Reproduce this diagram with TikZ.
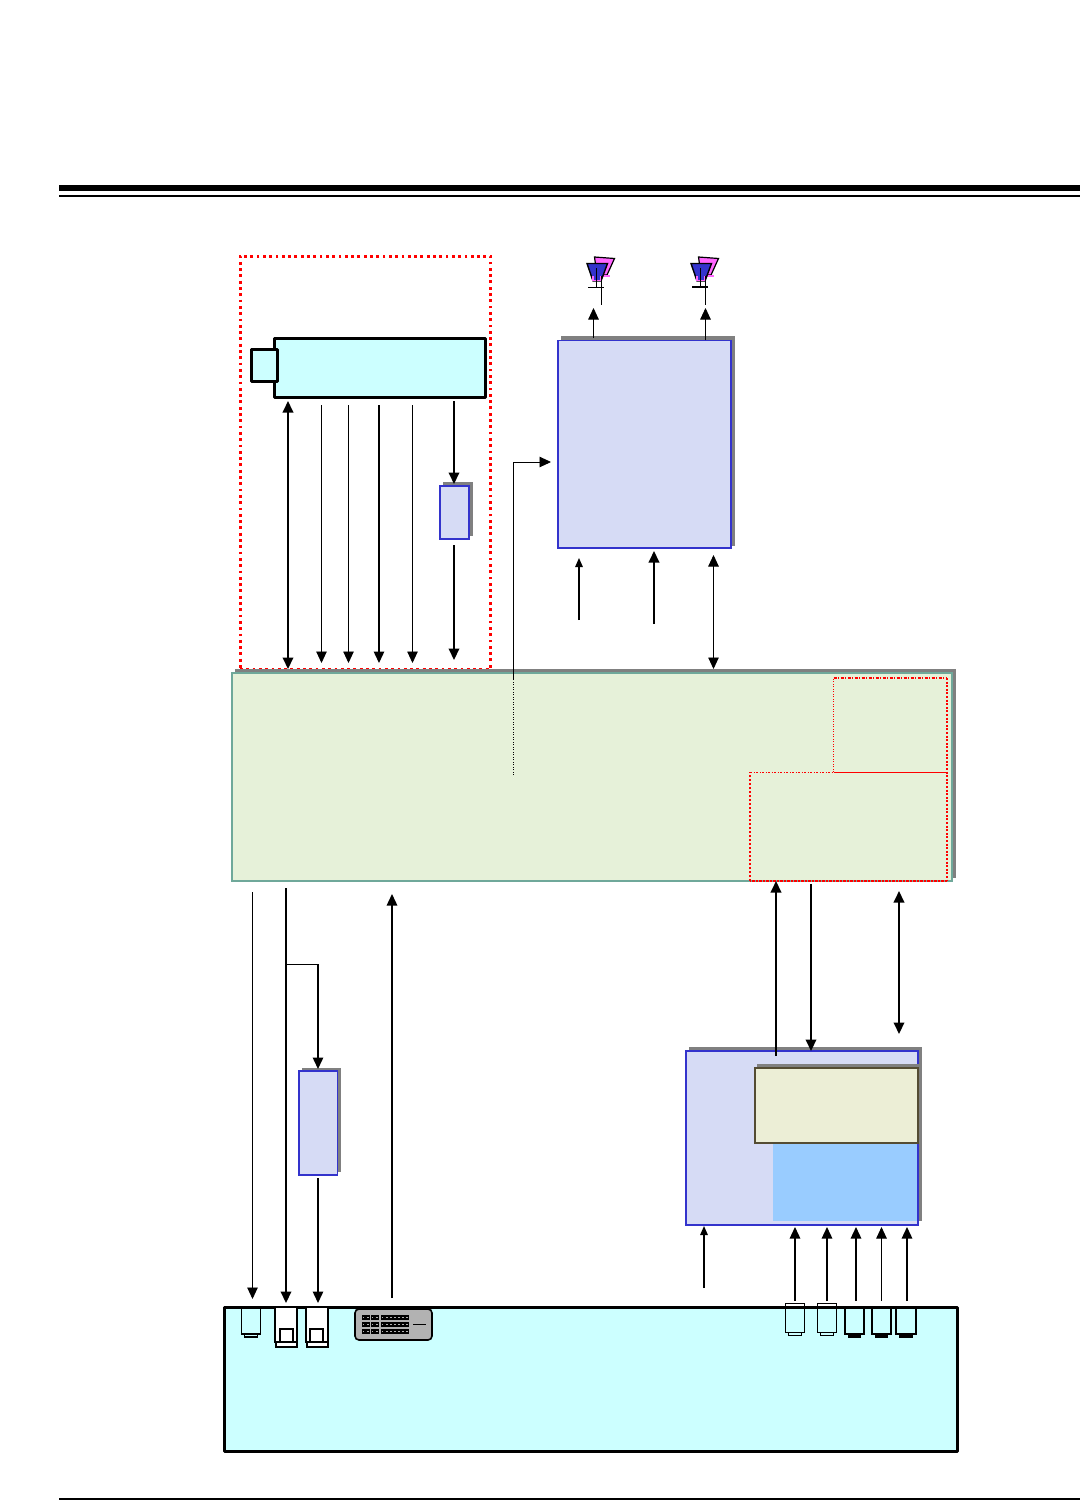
\documentclass[tikz,border=0pt]{standalone}
\usetikzlibrary{arrows.meta,fit}
\definecolor{lav}{HTML}{D6DBF5}
\definecolor{bord}{HTML}{3333CC}
\definecolor{shad}{HTML}{808080}
\definecolor{mint}{HTML}{E6F1D9}
\definecolor{teal2}{HTML}{6FA89A}
\definecolor{cyanp}{HTML}{CCFFFF}
\definecolor{creamp}{HTML}{ECEED6}
\definecolor{creamb}{HTML}{544C33}
\definecolor{skyb}{HTML}{99CCFF}
\definecolor{pinkp}{HTML}{FF66FF}
\definecolor{dvig}{HTML}{B2B2B2}
\tikzset{
  rbox/.style={inner sep=0pt,outer sep=0pt},
  shadowbox/.style={rbox,fill=shad},
  lavbox/.style={rbox,draw=bord,fill=lav,line width=1.6pt},
  panelbox/.style={rbox,draw=black,fill=cyanp,line width=3pt,line join=round},
  mainbox/.style={rbox,draw=teal2,fill=mint,line width=2pt},
  reddots/.style={draw=red,line width=3pt,dash pattern=on 2.8pt off 3.5pt},
  lnA/.style={line width=.9pt},
  lnB/.style={line width=1.4pt},
  lnC/.style={line width=2pt},
  tipS/.style={-{Triangle[length=9pt,width=7.5pt]}},
  tipM/.style={-{Triangle[length=11.5pt,width=10.5pt]}},
  tipD/.style={{Triangle[length=11.5pt,width=10.5pt]}-{Triangle[length=11.5pt,width=10.5pt]}},
  jackW/.style={rbox,draw=black,fill=white,line width=2pt},
}
% name, style, x1,y1,x2,y2
\newcommand{\rectnode}[6]{\node[#2,fit={(#3,#4)(#5,#6)}] (#1) {};}
% name, style, x, y1, y2
\newcommand{\vconn}[5]{\coordinate (#1-a) at (#3,#4); \coordinate (#1-b) at (#3,#5); \draw[#2] (#1-a) -- (#1-b);}
% antenna at x-offset
\newcommand{\antenna}[3]{%
  \begin{scope}[xshift=#1pt]
    \draw[fill=pinkp,line width=1.2pt] (594.5,257) -- (614.5,258.5) -- (607,275) -- (597,275) -- cycle;
    \fill[pinkp] (603,275) rectangle (610,277);
    \draw[fill=bord,line width=1.4pt] (587,263.5) -- (607.5,263.5) -- (601,281) -- (593,281) -- cycle;
    \fill[pinkp] (591.5,275.5) rectangle (601,281);
    \fill[bord] (593.5,276) rectangle (599.5,280);
    \draw[line width=1pt] (596.5,268) -- (596.5,287);
    \draw[line width=#3pt] (588,287) -- (604,287);
    \draw[line width=1pt] (#2,276) -- (#2,285);
  \end{scope}}
\begin{document}
\begin{tikzpicture}[x=1pt,y=-1pt]
\useasboundingbox (0,0) rectangle (1080,1501);
\fill[white] (0,0) rectangle (1080,1501);

% header / footer rules
\coordinate (hl) at (59,188); \coordinate (hr) at (1080,188);
\draw[line width=6pt] (hl) -- (hr);
\coordinate (hl2) at (59,196); \coordinate (hr2) at (1080,196);
\draw[line width=2pt] (hl2) -- (hr2);
\coordinate (fl) at (59,1499); \coordinate (fr) at (1080,1499);
\draw[line width=2.5pt] (fl) -- (fr);

% display module group
\rectnode{dispgroup}{rbox,reddots}{240}{256}{490.5}{669}
\rectnode{panel}{panelbox}{274.5}{338}{485.5}{397.5}
\rectnode{paneltab}{panelbox}{251}{349}{277.5}{381}

% small inverter block
\rectnode{invshadow}{shadowbox}{443}{482}{473}{536}
\rectnode{inv}{lavbox}{440}{486}{469}{539}

% big upper block
\rectnode{ampshadow}{shadowbox}{561}{336}{735}{546}
\rectnode{amp}{lavbox}{558}{340.5}{731}{548}

% main board
\rectnode{mainshadow}{shadowbox}{235}{669}{956}{878}
\rectnode{mainb}{mainbox}{232}{673}{951.5}{881}

% red sub-area
\coordinate (r1) at (833.5,772); \coordinate (r2) at (833.5,678);
\coordinate (r3) at (947,678); \coordinate (r4) at (947,881);
\coordinate (r5) at (750,881); \coordinate (r6) at (750,772); \coordinate (r7) at (947,772);
\draw[red,line width=.8pt,dash pattern=on 1pt off 1.5pt] (r1) -- (r2);
\draw[red,line width=1.6pt,dash pattern=on 3pt off 1.5pt on 1pt off 1.5pt] (r2) -- (r3);
\draw[red,line width=2pt,dash pattern=on 2pt off 1.6pt] (r3) -- (r4);
\draw[red,line width=2pt,dash pattern=on 2.5pt off 1pt] (r4) -- (r5);
\draw[red,line width=2pt,dash pattern=on 2pt off 2pt] (r5) -- (r6);
\draw[red,line width=1pt,dash pattern=on 2pt off 1.5pt on 1pt off 1.5pt] (r6) -- (r1);
\draw[red,line width=1pt] (r1) -- (r7);

% upper connectors
\vconn{u1}{lnC,tipD}{288}{401}{669}
\vconn{u2}{lnA,tipM}{321.5}{405}{663}
\vconn{u3}{lnA,tipM}{348.5}{405}{663}
\vconn{u4}{lnB,tipM}{379}{405}{663}
\vconn{u5}{lnA,tipM}{412.5}{405}{663}
\vconn{u6}{lnC,tipM}{454}{401}{484}
\vconn{u7}{lnC,tipM}{454}{545}{660}
\vconn{u8}{lnB,tipS}{579}{620}{558}
\vconn{u9}{lnC,tipM}{654}{624}{551}
\vconn{u10}{lnA,tipD}{713.5}{555}{669}
\vconn{u11}{lnA,tipM}{593.5}{338}{308}
\vconn{u12}{lnA,tipM}{705.5}{340}{308}
\vconn{u13}{lnA}{601}{285}{305}
\vconn{u14}{lnA}{705.5}{285}{305}

% elbow into the big block
\coordinate (el0) at (513.5,775); \coordinate (el1) at (513.5,680);
\coordinate (el2) at (513.5,462); \coordinate (el3) at (551,462);
\draw[line width=.8pt,dash pattern=on 1pt off 1.5pt] (el0) -- (el1);
\draw[lnA,tipM] (el1) -- (el2) -- (el3);

% antennas
\antenna{0}{601}{1}
\antenna{104}{601}{1.8}

% left lower block
\rectnode{hpshadow}{shadowbox}{302}{1068}{341}{1172}
\rectnode{hp}{lavbox}{299}{1071}{337.5}{1175}

% tuner block
\rectnode{tunershadow}{shadowbox}{689}{1047}{921.5}{1221}
\rectnode{tuner}{lavbox}{686}{1051}{918}{1225}
\rectnode{tunerblue}{rbox,fill=skyb}{773}{1143}{917}{1221}
\rectnode{creamshadow}{shadowbox}{757}{1064}{921.5}{1143}
\rectnode{cream}{rbox,draw=creamb,fill=creamp,line width=1.4pt}{755}{1068}{918}{1143}

% lower connectors
\vconn{d1}{lnA,tipM}{252.5}{892}{1299}
\vconn{d2}{lnC,tipM}{286}{888}{1303}
\coordinate (br0) at (286,964); \coordinate (br1) at (318,964); \coordinate (br2) at (318,1069);
\draw[lnA] (br0) -- (br1);
\draw[lnB,tipM] (br1) -- (br2);
\vconn{d3}{lnB,tipM}{318}{1178}{1303}
\vconn{d4}{lnB,tipM}{392}{1298}{894}
\vconn{d5}{lnC,tipM}{776}{1056}{881}
\vconn{d6}{lnC,tipM}{811}{884}{1051}
\vconn{d7}{lnC,tipD}{899}{891}{1034}
\vconn{d8}{lnB,tipS}{704}{1288}{1226}
\vconn{d9}{lnB,tipM}{795}{1301}{1227}
\vconn{d10}{lnB,tipM}{827}{1301}{1227}
\vconn{d11}{lnB,tipM}{856}{1301}{1227}
\vconn{d12}{lnA,tipM}{881.5}{1301}{1227}
\vconn{d13}{lnB,tipM}{907}{1301}{1227}

% rear panel
\rectnode{rear}{panelbox}{224.5}{1307}{957.5}{1451}

% jack c1
\draw[line width=1.4pt] (241.5,1307) -- (241.5,1334) -- (260.5,1334) -- (260.5,1307);
\draw[line width=1.2pt] (244.5,1334) -- (244.5,1337) -- (257.5,1337) -- (257.5,1334);
% jacks c2, c3
\rectnode{jack2}{jackW}{275}{1307}{297}{1342}
\rectnode{jack2b}{jackW}{276}{1342}{297}{1347}
\rectnode{jack2i}{jackW}{280}{1329}{292.5}{1342}
\rectnode{jack3}{jackW}{305.5}{1307}{328}{1342}
\rectnode{jack3b}{jackW}{306.5}{1342}{327.5}{1347}
\rectnode{jack3i}{jackW}{310}{1329}{323}{1342}

% DVI
\node[rbox,draw=black,fill=dvig,line width=1.6pt,rounded corners=4pt,fit={(355,1309)(432,1340)}] (dvi) {};
\foreach \y in {1315,1322,1329}{
  \foreach \x in {361.5,366,370.5,375,380.5,385,389,393,397,401,405}{
    \fill[black] (\x,\y) rectangle ++(4,5);
    \fill[dvig] (\x+1.3,\y+1.6) rectangle ++(1.3,1.6);
  }
}
\coordinate (dvi1) at (413,1324); \coordinate (dvi2) at (426,1324);
\draw[line width=.9pt] (dvi1) -- (dvi2);

% outline jacks
\foreach \x in {785.5,817}{
  \draw[line width=1pt] (\x,1303.5) rectangle ++(19.2,28.5);
  \draw[line width=1pt] (\x+3,1332) rectangle ++(13.2,3);
}
\foreach \x in {844.5,871.5,896}{
  \draw[line width=2pt] (\x,1307) -- (\x,1334) -- (\x+19.5,1334) -- (\x+19.5,1307);
  \fill[black] (\x+3,1334) rectangle ++(13.5,4);
}
\end{tikzpicture}
\end{document}
